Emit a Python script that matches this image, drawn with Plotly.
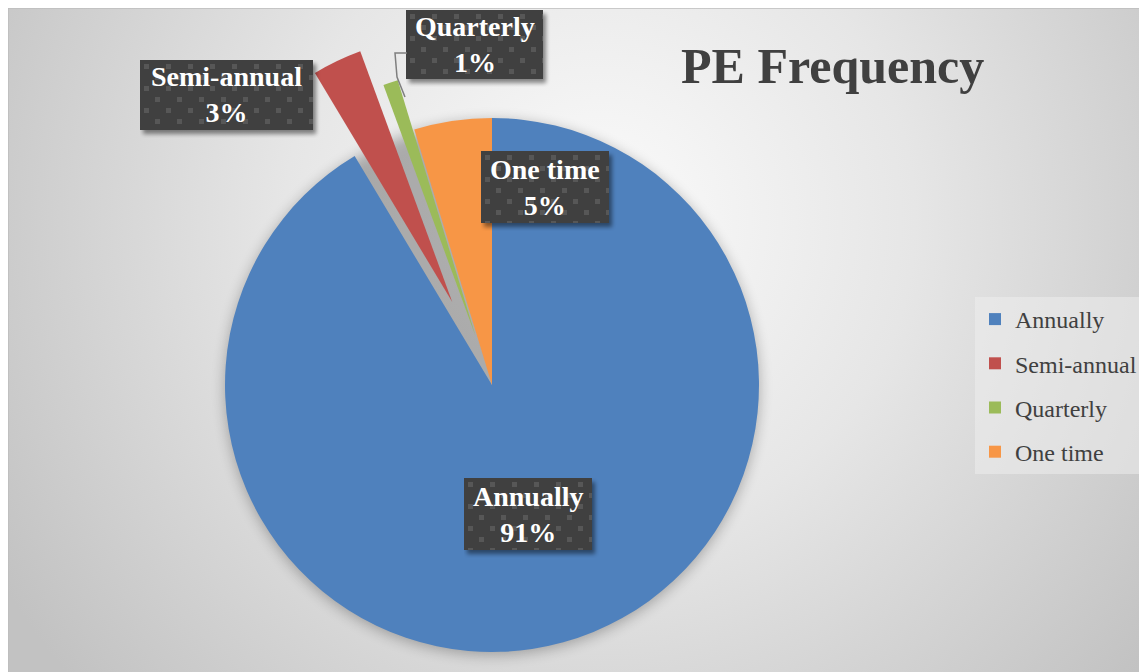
import base64
import math

import plotly.graph_objects as go

# data
labels = ["Annually", "Semi-annual", "Quarterly", "One time"]
values = [91.4, 3.0, 0.9, 4.7]
colors = ["#4f81bd", "#c0504d", "#9bbb59", "#f79646"]
pulls = [0, 0.345, 0.195, 0]

# the page body adds an 8px margin, so the figure is the chart area itself
W, H = 1139, 664
CX, CY, R = 484, 377, 267          # pie centre / radius in px
FONT = "Liberation Serif"
CLEAR = "rgba(0,0,0,0)"

# label boxes: centre x, centre y, width, height (px)
boxes = {
    "Annually": (520, 506, 128, 72),
    "Semi-annual": (218.5, 87, 173, 70),
    "Quarterly": (466.5, 36.5, 137, 69),
    "One time": (537, 179, 128, 72),
}


def px_domain(cx, cy, r):
    return dict(x=[(cx - r) / W, (cx + r) / W],
                y=[1 - (cy + r) / H, 1 - (cy - r) / H])


def svg_uri(svg):
    return "data:image/svg+xml;base64," + base64.b64encode(svg.encode()).decode()


def box_svg(w, h):
    return f'''<svg xmlns="http://www.w3.org/2000/svg" width="{w + 8}" height="{h + 8}">
<defs><filter id="b" x="-20%" y="-20%" width="140%" height="140%"><feGaussianBlur stdDeviation="2"/></filter>
<pattern id="p" width="22" height="22" patternUnits="userSpaceOnUse">
<rect width="22" height="22" fill="#404040"/>
<rect x="4" y="4" width="5" height="5" fill="#575757"/>
<rect x="15" y="15" width="5" height="5" fill="#575757"/></pattern></defs>
<rect x="3" y="4" width="{w}" height="{h}" fill="#000" opacity="0.45" filter="url(#b)"/>
<rect x="0" y="0" width="{w}" height="{h}" fill="url(#p)"/></svg>'''


bg_svg = f'''<svg xmlns="http://www.w3.org/2000/svg" width="{W}" height="{H}">
<defs><radialGradient id="g" gradientUnits="userSpaceOnUse" cx="592" cy="212" r="700">
<stop offset="0" stop-color="#fbfbfb"/><stop offset="0.45" stop-color="#e6e6e6"/>
<stop offset="1" stop-color="#c2c2c2"/></radialGradient>
<filter id="s" x="-20%" y="-20%" width="140%" height="140%"><feGaussianBlur stdDeviation="7"/></filter></defs>
<rect width="{W}" height="{H}" fill="url(#g)"/>
<circle cx="{CX}" cy="{CY + 3}" r="{R}" fill="#000" opacity="0.28" filter="url(#s)"/>
</svg>'''

total = sum(values)
fig = go.Figure()

# legend swatches, tiny pies tucked under the big one
for lab, col in zip(labels, colors):
    fig.add_trace(go.Pie(labels=[lab], values=[1], marker=dict(colors=[col]),
                         domain=px_domain(600, 450, 0.05), textinfo="none",
                         hoverinfo="skip", legendgroup=lab, showlegend=True, sort=False))

# main pie, exploded slices left out
base_colors = [c if p == 0 else CLEAR for c, p in zip(colors, pulls)]
fig.add_trace(go.Pie(labels=labels, values=values, sort=False, direction="clockwise",
                     rotation=0, marker=dict(colors=base_colors), textinfo="none",
                     showlegend=False, domain=px_domain(CX, CY, R)))

# exploded slices: same pie shifted along the slice bisector
cum = 0
for i, (lab, v, c, p) in enumerate(zip(labels, values, colors, pulls)):
    mid = (cum + v / 2) / total * 2 * math.pi
    cum += v
    if p == 0:
        continue
    dx, dy = p * R * math.sin(mid), -p * R * math.cos(mid)
    cols = [CLEAR] * len(labels)
    cols[i] = c
    fig.add_trace(go.Pie(labels=labels, values=values, sort=False, direction="clockwise",
                         rotation=0, marker=dict(colors=cols), textinfo="none",
                         showlegend=False, domain=px_domain(CX + dx, CY + dy, R)))

images = [dict(source=svg_uri(bg_svg), xref="paper", yref="paper", x=0, y=1,
               sizex=1, sizey=1, xanchor="left", yanchor="top", sizing="stretch", layer="below")]
annotations = []
for lab, v in zip(labels, values):
    bx, by, bw, bh = boxes[lab]
    images.append(dict(source=svg_uri(box_svg(bw, bh)), xref="paper", yref="paper",
                       x=(bx - bw / 2) / W, y=1 - (by - bh / 2) / H,
                       sizex=(bw + 8) / W, sizey=(bh + 8) / H,
                       xanchor="left", yanchor="top", sizing="stretch", layer="above"))
    annotations.append(dict(text=f"<b>{lab}</b><br><b>{round(v / total * 100)}%</b>",
                            xref="paper", yref="paper", x=bx / W, y=1 - by / H,
                            xanchor="center", yanchor="middle", showarrow=False,
                            font=dict(family=FONT, size=28, color="white")))

annotations.append(dict(text="<b>PE Frequency</b>", xref="paper", yref="paper",
                        x=825 / W, y=1 - 58 / H, xanchor="center", yanchor="middle",
                        showarrow=False, font=dict(family=FONT, size=50, color="#404040")))

# leader line for the Quarterly label
pts = [(399, 45), (387, 45), (389, 69), (397, 89)]
path = "M " + " L ".join(f"{x / W},{1 - y / H}" for x, y in pts)

fig.update_layout(
    width=W, height=H,
    margin=dict(l=0, r=0, t=0, b=0),
    paper_bgcolor="white",
    images=images,
    annotations=annotations,
    shapes=[
        dict(type="path", path=path, xref="paper", yref="paper",
             line=dict(color="#7f7f7f", width=1.5)),
        dict(type="rect", xref="paper", yref="paper", x0=0, y0=-0.1, x1=1.1, y1=1,
             line=dict(color="#bdbdbd", width=1.5)),
    ],
    legend=dict(x=967 / W, y=1 - 289 / H, xanchor="left", yanchor="top",
                bgcolor="rgba(240,240,240,0.5)", traceorder="grouped", tracegroupgap=10,
                font=dict(family=FONT, size=24, color="#404040")),
)

fig.write_html("out.html")
